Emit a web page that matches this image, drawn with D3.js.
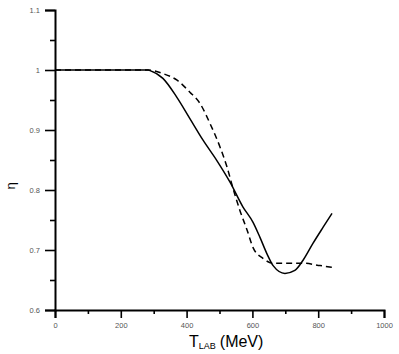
<!DOCTYPE html>
<html>
<head>
  <script src="https://cdnjs.cloudflare.com/ajax/libs/d3/7.8.5/d3.min.js"></script>
  <style>
    body { margin: 0; background: #fff; font-family: "Liberation Sans", Arial, sans-serif; }
    svg { display: block; }
  </style>
</head>
<body>
<div id="chart"></div>
<script>
// T_LAB (MeV) and eta
var solidT   = [0, 283, 289, 328, 371, 410, 450, 492, 532, 571, 602, 623, 644, 663, 699, 729, 754, 784, 815, 842];
var solidEta = [1.0, 1.0, 0.999, 0.986, 0.954, 0.919, 0.883, 0.849, 0.813, 0.772, 0.746, 0.721, 0.694, 0.674, 0.661, 0.666, 0.683, 0.711, 0.738, 0.761];

var dashT   = [0, 283, 328, 371, 410, 441, 471, 502, 523, 541, 562, 584, 602, 632, 663, 705, 754, 806, 842];
var dashEta = [1.0, 1.0, 0.994, 0.983, 0.963, 0.944, 0.911, 0.871, 0.838, 0.803, 0.766, 0.733, 0.704, 0.686, 0.678, 0.678, 0.678, 0.674, 0.671];

var xTicks = [0, 200, 400, 600, 800, 1000];
var xMinor = [100, 300, 500, 700, 900];
var yTicks = [0.6, 0.7, 0.8, 0.9, 1, 1.1];
var yMinor = [0.65, 0.75, 0.85, 0.95, 1.05];

var width = 399, height = 354;
var svg = d3.select('#chart').append('svg')
    .attr('width', width)
    .attr('height', height);

var x = d3.scaleLinear().domain([0, 1000]).range([55, 384]);
var y = d3.scaleLinear().domain([0.6, 1.1]).range([310, 10]);

//----------------------------------------
// axes
var xAxis = svg.append('g').attr('transform', 'translate(0,310)')
    .call(d3.axisBottom(x).tickValues(xTicks).tickSize(8).tickFormat(d3.format('d')));
svg.append('g').attr('transform', 'translate(0,310)')
    .call(d3.axisBottom(x).tickValues(xMinor).tickSize(4).tickFormat(''))
    .select('.domain').remove();

var yAxis = svg.append('g').attr('transform', 'translate(55,0)')
    .call(d3.axisLeft(y).tickValues(yTicks).tickSize(10).tickFormat(function(d) { return d === 1 ? '1' : d3.format('.1f')(d); }));
svg.append('g').attr('transform', 'translate(55,0)')
    .call(d3.axisLeft(y).tickValues(yMinor).tickSize(5).tickFormat(''))
    .select('.domain').remove();

svg.selectAll('.domain').attr('stroke', '#000').attr('stroke-width', 2);
svg.selectAll('.tick line').attr('stroke', '#000').attr('stroke-width', 1.6);
svg.selectAll('.tick text')
    .attr('fill', '#555')
    .style('font-size', '7.5px')
    .style('font-family', '"Liberation Sans", Arial, sans-serif');
xAxis.selectAll('.tick text').attr('y', 16).attr('dy', '0.32em');
yAxis.selectAll('.tick text').attr('x', -15);

// axis titles
svg.append('text')
    .attr('transform', 'translate(15,186) rotate(-90)')
    .attr('text-anchor', 'middle')
    .style('font-size', '13px')
    .text('η');

var xt = svg.append('text')
    .attr('x', 189).attr('y', 347)
    .style('font-size', '16px');
xt.append('tspan').text('T');
xt.append('tspan').attr('dy', 2).style('font-size', '9px').text('LAB');
xt.append('tspan').attr('dy', -2).attr('dx', 4).text('(MeV)');

//----------------------------------------
// curves
var line = d3.line()
    .x(function(d) { return x(d[0]); })
    .y(function(d) { return y(d[1]); })
    .curve(d3.curveMonotoneX);

svg.append('path')
    .datum(d3.zip(solidT, solidEta))
    .attr('d', line)
    .attr('fill', 'none')
    .attr('stroke', '#000')
    .attr('stroke-width', 1.5);

svg.append('path')
    .datum(d3.zip(dashT, dashEta))
    .attr('d', line)
    .attr('fill', 'none')
    .attr('stroke', '#000')
    .attr('stroke-width', 1.5)
    .attr('stroke-dasharray', '6,4');
</script>
</body>
</html>
